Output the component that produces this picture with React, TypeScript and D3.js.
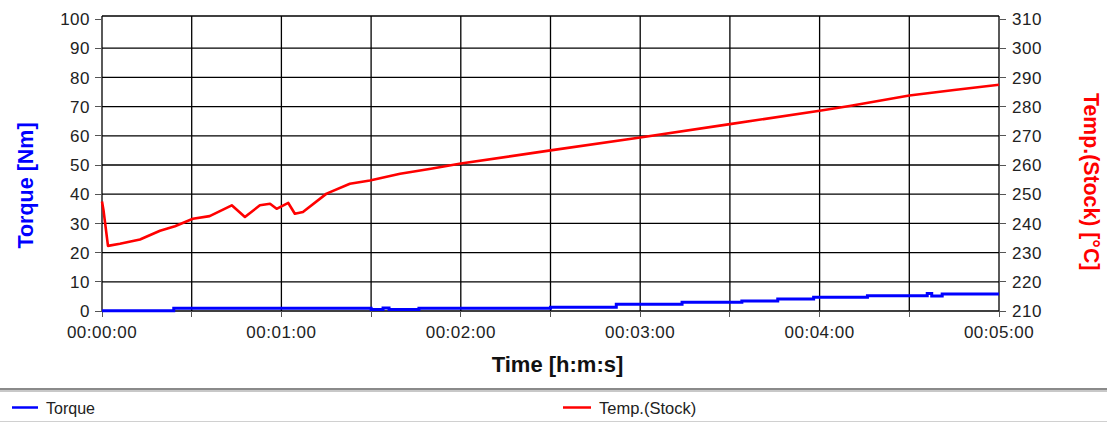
import React from 'react';
import * as d3 from 'd3';

const W = 1107;
const H = 423;

const timeTickValues = [0, 60, 120, 180, 240, 300];
const timeTickLabels = ['00:00:00', '00:01:00', '00:02:00', '00:03:00', '00:04:00', '00:05:00'];
const timeGridValues = [0, 30, 60, 90, 120, 150, 180, 210, 240, 270, 300];
const torqueTicks = [0, 10, 20, 30, 40, 50, 60, 70, 80, 90, 100];
const tempTicks = [210, 220, 230, 240, 250, 260, 270, 280, 290, 300, 310];

// seconds, Nm
const torqueTime = [0, 24, 90, 94, 96, 106, 150, 172, 194, 214, 226, 238, 256, 276, 277.5, 281, 300];
const torqueValue = [0.1, 0.9, 0.5, 1.0, 0.5, 0.9, 1.3, 2.3, 3.0, 3.4, 4.1, 4.7, 5.2, 6.0, 5.1, 5.8, 5.8];

// seconds, °C
const tempTime = [0, 0.5, 2, 6, 12.7, 19.4, 24.4, 30.4, 36, 43.4, 47.8, 52.8, 56.2, 58.4, 62.3, 64.5, 67.2, 75.1, 82.9, 89.6, 99.7, 110, 120, 150, 180, 210, 240, 250, 260, 270, 285, 300];
const tempValue = [247.5, 244.5, 232.3, 233.0, 234.5, 237.5, 239.0, 241.6, 242.5, 246.2, 242.2, 246.2, 246.7, 245.0, 247.0, 243.3, 243.9, 250.2, 253.6, 254.7, 257.0, 258.7, 260.5, 265.0, 269.4, 274.0, 278.6, 280.2, 282.0, 283.8, 285.7, 287.5];

const FONT = "'Liberation Sans', Arial, sans-serif";

export default function App() {
  const x = d3.scaleLinear().domain([0, 300]).range([102, 999]);
  const yL = d3.scaleLinear().domain([0, 100]).range([311, 19]);
  const yR = d3.scaleLinear().domain([210, 310]).range([311, 19]);

  const torqueData = torqueTime.map((t, i) => [t, torqueValue[i]] as [number, number]);
  const tempData = tempTime.map((t, i) => [t, tempValue[i]] as [number, number]);

  const torqueLine = d3
    .line<[number, number]>()
    .x((d) => x(d[0]))
    .y((d) => yL(d[1]))
    .curve(d3.curveStepAfter)(torqueData) as string;
  const tempLine = d3
    .line<[number, number]>()
    .x((d) => x(d[0]))
    .y((d) => yR(d[1]))(tempData) as string;

  const plotLeft = x(0);
  const plotRight = x(300);
  const plotTop = 16;
  const plotBottom = yL(0);

  return (
    <svg
      width={W}
      height={H}
      style={{ position: 'absolute', left: 0, top: 0, background: '#fff' }}
      fontFamily={FONT}
    >
      <rect x={0} y={0} width={W} height={H} fill="#fff" />
      {/* gridlines */}
      <g stroke="#000" strokeWidth={1.3}>
        {torqueTicks.slice(0, 10).map((v) => (
          <line key={'h' + v} x1={plotLeft} x2={plotRight} y1={yL(v)} y2={yL(v)} />
        ))}
        {timeGridValues.map((t) => (
          <line key={'v' + t} x1={x(t)} x2={x(t)} y1={plotTop} y2={plotBottom} />
        ))}
        <line x1={plotLeft} x2={plotRight} y1={plotTop} y2={plotTop} />
      </g>
      {/* tick marks */}
      <g stroke="#555" strokeWidth={1} shapeRendering="crispEdges">
        {torqueTicks.map((v) => (
          <line key={'lt' + v} x1={plotLeft - 7} x2={plotLeft} y1={yL(v)} y2={yL(v)} />
        ))}
        {tempTicks.map((v) => (
          <line key={'rt' + v} x1={plotRight} x2={plotRight + 7} y1={yR(v)} y2={yR(v)} />
        ))}
        {timeGridValues.map((t) => (
          <line key={'bt' + t} x1={x(t)} x2={x(t)} y1={plotBottom} y2={plotBottom + 6} />
        ))}
      </g>
      {/* tick labels */}
      <g fontSize={17} fill="#222" letterSpacing={0.5}>
        {torqueTicks.map((v) => (
          <text key={'ll' + v} x={90} y={yL(v)} dy="0.36em" textAnchor="end">
            {v}
          </text>
        ))}
        {tempTicks.map((v) => (
          <text key={'rl' + v} x={1012} y={yR(v)} dy="0.36em" textAnchor="start">
            {v}
          </text>
        ))}
        {timeTickValues.map((t, i) => (
          <text key={'xl' + t} x={x(t)} y={338} textAnchor="middle">
            {timeTickLabels[i]}
          </text>
        ))}
      </g>
      {/* data lines */}
      <path d={tempLine} fill="none" stroke="#ff0000" strokeWidth={2.6} strokeLinejoin="round" />
      <path d={torqueLine} fill="none" stroke="#0000ff" strokeWidth={3} />
      {/* axis titles */}
      <text x={557.5} y={371.5} textAnchor="middle" fontSize={22} fontWeight="bold" fill="#111">
        Time [h:m:s]
      </text>
      <text
        transform="translate(33,185.5) rotate(-90)"
        textAnchor="middle"
        fontSize={21.5}
        fontWeight="bold"
        fill="#0000ff"
      >
        Torque [Nm]
      </text>
      <text
        transform="translate(1084,181.7) rotate(90)"
        textAnchor="middle"
        fontSize={21.3}
        fontWeight="bold"
        fill="#ff0000"
      >
        Temp.(Stock) [°C]
      </text>
      {/* legend */}
      <line x1={0} x2={W} y1={389} y2={389} stroke="#8a8a8a" strokeWidth={2} />
      <line x1={0} x2={W} y1={391} y2={391} stroke="#c8c8c8" strokeWidth={2} />
      <line x1={12} x2={38} y1={407.5} y2={407.5} stroke="#0000ff" strokeWidth={2.5} />
      <text x={46} y={413.5} fontSize={16} fill="#222">
        Torque
      </text>
      <line x1={563} x2={591} y1={407.5} y2={407.5} stroke="#ff0000" strokeWidth={2.5} />
      <text x={599} y={413.5} fontSize={16.5} fill="#222">
        Temp.(Stock)
      </text>
      <line x1={0} x2={W} y1={421.5} y2={421.5} stroke="#d0d0d0" strokeWidth={1} />
    </svg>
  );
}
